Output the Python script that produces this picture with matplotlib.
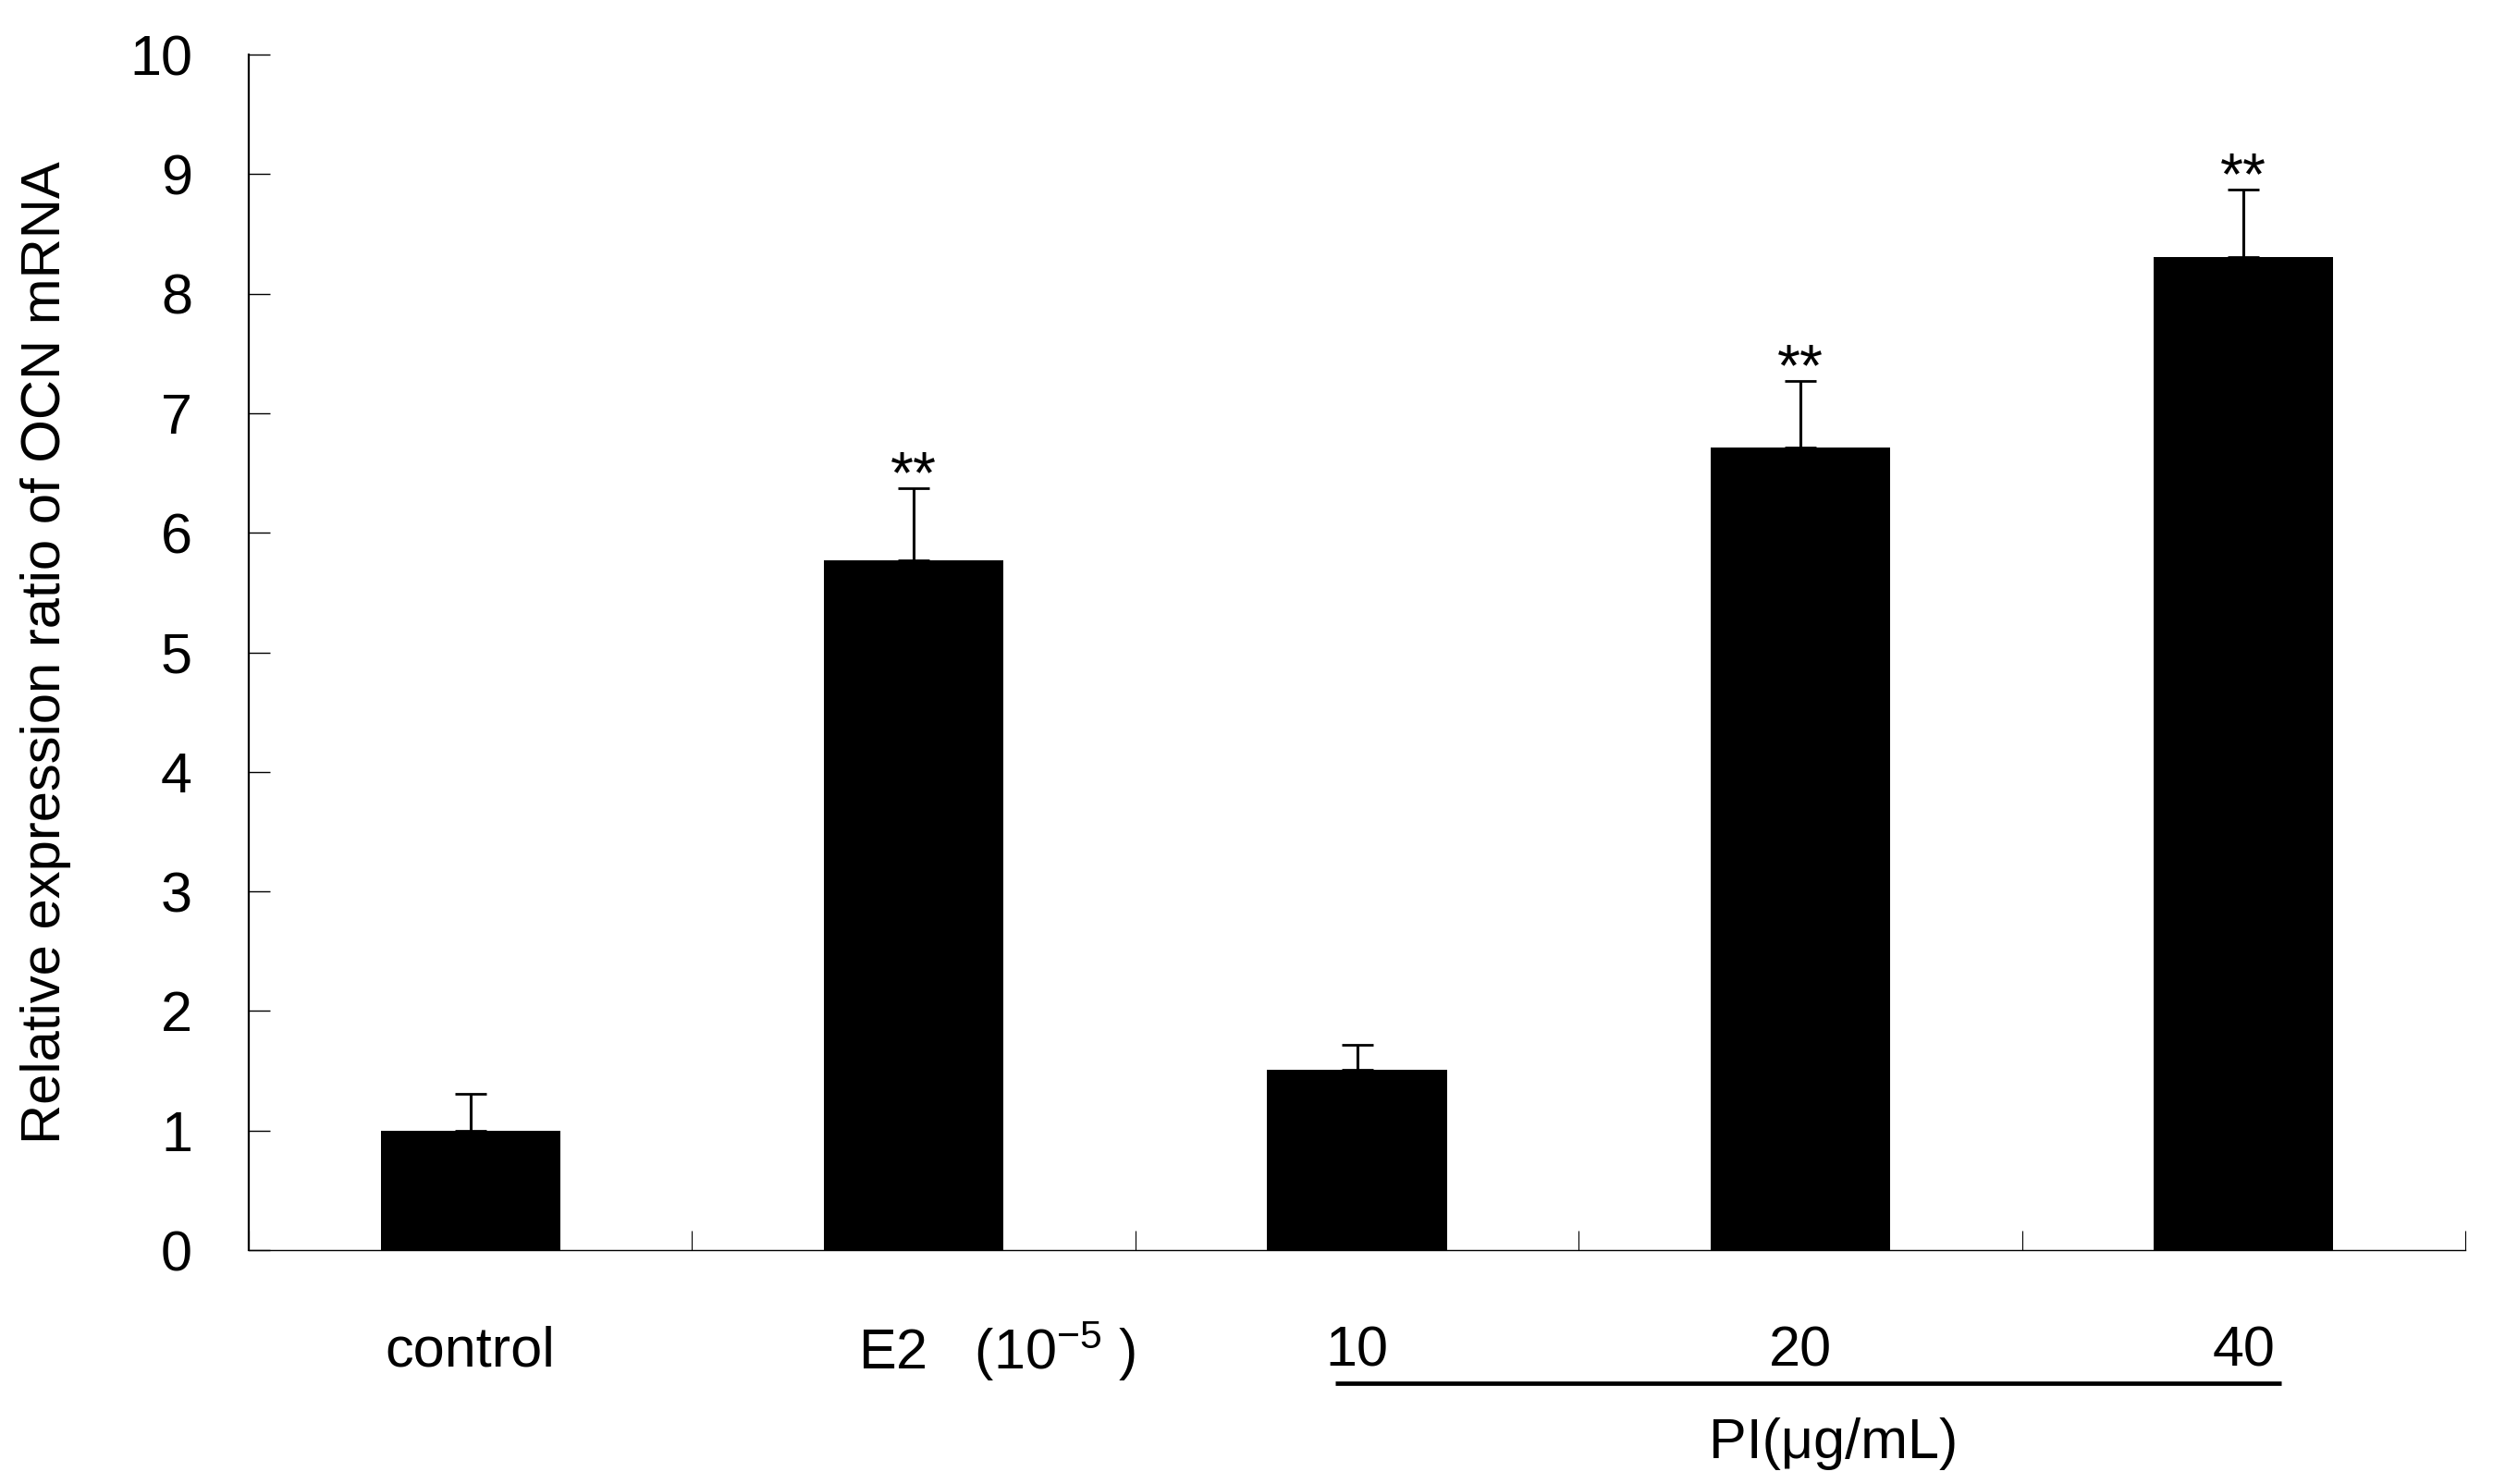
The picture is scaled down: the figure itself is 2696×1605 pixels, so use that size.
import matplotlib
matplotlib.use("Agg")
import matplotlib.pyplot as plt
import matplotlib.transforms as mtransforms

plt.rcParams['font.family'] = ['Liberation Sans', 'DejaVu Sans']
plt.rcParams['mathtext.fontset'] = 'custom'
plt.rcParams['mathtext.rm'] = 'Liberation Sans'
plt.rcParams['mathtext.it'] = 'Liberation Sans'

# data
groups = ["control", "E2", "10", "20", "40"]
means = [1.00, 5.77, 1.51, 6.71, 8.31]
errs = [0.31, 0.60, 0.21, 0.56, 0.56]
marks = ["", "**", "", "**", "**"]
ylab = "Relative expression ratio of OCN mRNA"
dose_label = "PI(\u03bcg/mL)"

fig = plt.figure(figsize=(26.96, 16.05), dpi=100)
ax = fig.add_axes([0.0998, 0.1576, 0.8891, 0.8056])

x = [i + 0.5 for i in range(len(groups))]
ax.bar(x, means, width=0.405, color="black", zorder=2)
ax.errorbar(x, means, yerr=[[0] * len(errs), errs], fmt="none", ecolor="black",
            elinewidth=2.2, capsize=12.5, capthick=2.0, zorder=3)
for xi, m, e, s in zip(x, means, errs, marks):
    if s:
        ax.text(xi, m + e - 0.04, s, ha="center", va="baseline", fontsize=46)

ax.set_xlim(0, 5)
ax.set_ylim(0, 10)
ax.set_yticks(range(0, 11))
ax.set_xticks(range(0, 6))
ax.set_xticklabels([])
ax.tick_params(axis="y", direction="in", length=16.5, width=1.0, labelsize=44, pad=44)
ax.tick_params(axis="x", direction="in", length=15, width=0.8)
for sp in ["top", "right"]:
    ax.spines[sp].set_visible(False)
ax.spines["left"].set_linewidth(1.6)
ax.spines["bottom"].set_linewidth(1.0)

ax.set_ylabel(ylab, fontsize=43)
ax.yaxis.set_label_coords(-0.08, 0.5)

tr = mtransforms.blended_transform_factory(ax.transData, ax.transAxes)
ax.text(x[0], -0.085, groups[0], transform=tr, ha="center", va="center", fontsize=44)
ax.text(1.375, -0.085, "E2   (10$^{-5}$ )", transform=tr,
        ha="left", va="center", fontsize=44)
for i in [2, 3, 4]:
    ax.text(x[i], -0.085, groups[i], transform=tr, ha="center", va="center", fontsize=44)

ax.plot([2.45, 4.585], [-0.111, -0.111], color="black", lw=3.4, transform=tr,
        clip_on=False, solid_capstyle="butt")
ax.text(3.575, -0.162, dose_label, transform=tr, ha="center", va="center", fontsize=44)

fig.savefig("out.png", dpi=100)
